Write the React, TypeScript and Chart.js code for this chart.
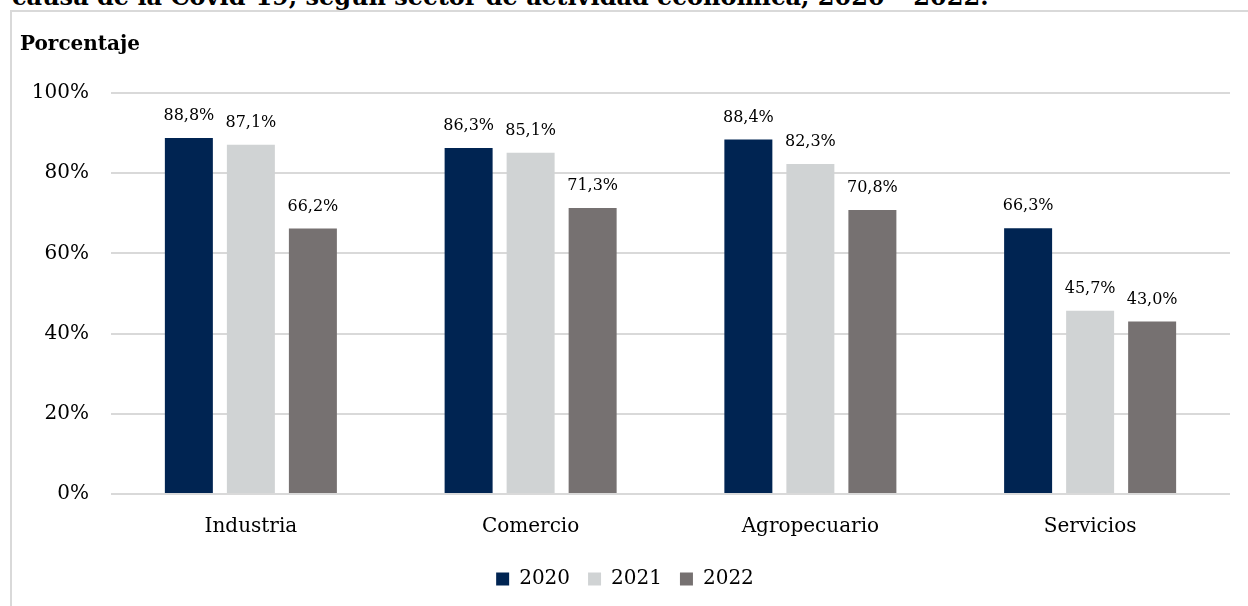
import React, { useEffect, useRef } from "react";
import { Chart, registerables } from "chart.js";

Chart.register(...registerables);

const categories = ["Industria", "Comercio", "Agropecuario", "Servicios"];
const seriesLabels = ["2020", "2021", "2022"];
const values2020 = [88.8, 86.3, 88.4, 66.3];
const values2021 = [87.1, 85.1, 82.3, 45.7];
const values2022 = [66.2, 71.3, 70.8, 43.0];
const yTickValues = [0, 20, 40, 60, 80, 100];
const seriesColors = ["#002452", "#D0D3D4", "#767171"];

const FONT = "'DejaVu Serif', serif";
const fmt = (v: number) => v.toFixed(1).replace(".", ",") + "%";

const dataLabelPlugin = {
  id: "dataLabels",
  afterDatasetsDraw(chart: any) {
    const ctx = chart.ctx;
    ctx.save();
    ctx.font = `16px ${FONT}`;
    ctx.fillStyle = "#000";
    ctx.textAlign = "center";
    ctx.textBaseline = "middle";
    chart.data.datasets.forEach((ds: any, i: number) => {
      const meta = chart.getDatasetMeta(i);
      meta.data.forEach((bar: any, j: number) => {
        ctx.fillText(fmt(ds.data[j]), bar.x, bar.y - 22);
      });
    });
    ctx.restore();
  },
};

export default function App() {
  const canvasRef = useRef<HTMLCanvasElement | null>(null);

  useEffect(() => {
    if (!canvasRef.current) return;
    const seriesValues = [values2020, values2021, values2022];
    const chart = new Chart(canvasRef.current, {
      type: "bar",
      data: {
        labels: categories,
        datasets: seriesLabels.map((lab, i) => ({
          label: lab,
          data: seriesValues[i],
          backgroundColor: seriesColors[i],
          borderWidth: 0,
          categoryPercentage: 0.665,
          barPercentage: 0.774,
        })),
      },
      options: {
        responsive: false,
        animation: false,
        layout: { padding: { left: 8, right: 42, top: 0, bottom: 7 } },
        plugins: {
          title: {
            display: true,
            text: "Porcentaje",
            align: "start",
            color: "#000",
            font: { family: FONT, size: 20, weight: "bold" },
            padding: { top: 21, bottom: 36 },
          },
          legend: {
            position: "bottom",
            labels: {
              boxWidth: 13,
              boxHeight: 13,
              padding: 18,
              color: "#000",
              font: { family: FONT, size: 20 },
            },
          },
          tooltip: { enabled: false },
        },
        scales: {
          x: {
            grid: { display: false, drawTicks: false },
            border: { display: false },
            ticks: { color: "#000", font: { family: FONT, size: 20 }, padding: 21 },
            afterFit: (scale: any) => {
              scale.height = 57;
            },
          },
          y: {
            min: 0,
            max: 100,
            afterBuildTicks: (scale: any) => {
              scale.ticks = yTickValues.map((v) => ({ value: v }));
            },
            grid: { color: "#D9D9D9", lineWidth: 2, drawTicks: false },
            border: { display: false },
            ticks: {
              color: "#000",
              font: { family: FONT, size: 20 },
              padding: 22,
              callback: (v: any) => `${v}%`,
            },
            afterFit: (scale: any) => {
              scale.width = 91;
            },
          },
        },
      } as any,
      plugins: [dataLabelPlugin],
    });
    return () => chart.destroy();
  }, []);

  return (
    <div
      style={{
        position: "fixed",
        left: 0,
        top: 0,
        width: 1248,
        height: 606,
        overflow: "hidden",
        background: "#fff",
      }}
    >
      <div
        style={{
          position: "absolute",
          left: 12,
          top: -15,
          whiteSpace: "nowrap",
          fontFamily: FONT,
          fontWeight: "bold",
          fontSize: 24,
          lineHeight: "24px",
          color: "#000",
        }}
      >
        causa de la Covid-19, según sector de actividad económica, 2020 – 2022.
      </div>
      <div
        style={{
          position: "absolute",
          left: 10,
          top: 10,
          width: 1300,
          height: 700,
          borderLeft: "2px solid #D9D9D9",
          borderTop: "2px solid #D9D9D9",
        }}
      >
        <canvas
          ref={canvasRef}
          width={1260}
          height={594}
          style={{ position: "absolute", left: 0, top: 0, width: 1260, height: 594 }}
        />
      </div>
    </div>
  );
}
